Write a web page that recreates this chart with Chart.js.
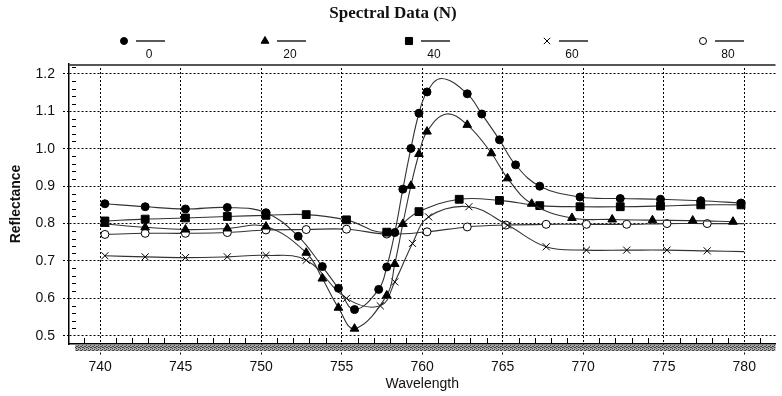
<!DOCTYPE html>
<html>
<head>
<meta charset="utf-8">
<script src="https://cdn.jsdelivr.net/npm/chart.js@4.4.1/dist/chart.umd.min.js"></script>
<style>
  html, body { margin: 0; padding: 0; background: #fff; }
  #wrap { width: 782px; height: 396px; }
</style>
</head>
<body>
<div id="wrap"><canvas id="spectral" width="782" height="396"></canvas></div>
<script>
// SERIES LABELS (N level)
const levels = ['0', '20', '40', '60', '80'];

// N = 0 (filled circle)
const wl0 = [740.3, 742.8, 745.3, 747.9, 750.3, 752.3, 753.8, 754.8, 755.8, 757.3, 757.8, 758.3, 758.8, 759.3, 759.8, 760.3, 762.8, 763.7, 764.8, 765.8, 767.3, 769.8, 772.3, 774.8, 777.3, 779.8];
const r0 = [0.853, 0.845, 0.839, 0.843, 0.829, 0.766, 0.685, 0.627, 0.570, 0.624, 0.684, 0.776, 0.892, 1.001, 1.095, 1.152, 1.147, 1.093, 1.024, 0.957, 0.900, 0.871, 0.867, 0.865, 0.861, 0.855];
// line-only points (no marker drawn there)
const wl0x = [761.2];
const r0x = [1.188];

// N = 20 (triangle)
const wl20 = [740.3, 742.8, 745.3, 747.9, 750.3, 752.8, 753.8, 754.8, 755.8, 757.8, 758.3, 758.8, 759.3, 759.8, 760.3, 762.8, 764.3, 765.3, 766.8, 769.3, 771.8, 774.3, 776.8, 779.3];
const r20 = [0.799, 0.790, 0.784, 0.787, 0.792, 0.722, 0.653, 0.575, 0.519, 0.608, 0.692, 0.799, 0.901, 0.986, 1.046, 1.064, 0.988, 0.921, 0.853, 0.815, 0.811, 0.809, 0.808, 0.805];
const wl20x = [761.5];
const r20x = [1.093];

// N = 40 (square)
const wl40 = [740.3, 742.8, 745.3, 747.9, 750.3, 752.8, 755.3, 757.8, 759.8, 762.3, 764.8, 767.3, 769.8, 772.3, 774.8, 777.3, 779.8];
const r40 = [0.807, 0.812, 0.815, 0.819, 0.822, 0.824, 0.810, 0.777, 0.832, 0.865, 0.862, 0.848, 0.845, 0.845, 0.847, 0.850, 0.850];

// N = 60 (cross)
const wl60 = [740.3, 742.8, 745.3, 747.9, 750.3, 752.8, 755.3, 757.4, 758.3, 759.4, 760.4, 762.9, 765.3, 767.7, 770.2, 772.7, 775.2, 777.7];
const r60 = [0.714, 0.711, 0.709, 0.711, 0.715, 0.702, 0.600, 0.580, 0.644, 0.747, 0.818, 0.845, 0.796, 0.738, 0.729, 0.729, 0.729, 0.727];
const wl60x = [780];
const r60x = [0.725];

// N = 80 (open circle)
const wl80 = [740.3, 742.8, 745.3, 747.9, 750.3, 752.8, 755.3, 757.8, 760.3, 762.8, 765.2, 767.7, 770.2, 772.7, 775.2, 777.7];
const r80 = [0.771, 0.774, 0.774, 0.776, 0.783, 0.784, 0.785, 0.772, 0.778, 0.791, 0.796, 0.798, 0.798, 0.798, 0.800, 0.800];
const wl80x = [780];
const r80x = [0.800];

// AXIS TICKS
const xTicks = [740, 745, 750, 755, 760, 765, 770, 775, 780];
const yTicks = [0.5, 0.6, 0.7, 0.8, 0.9, 1.0, 1.1, 1.2];

const sans = '"Liberation Sans", Arial, sans-serif';

const marks = [
    { pointStyle: 'circle', radius: 4, fill: '#000' },
    { pointStyle: 'triangle', radius: 5, fill: '#000' },
    { pointStyle: 'rect', radius: 5.5, fill: '#000' },
    { pointStyle: 'crossRot', radius: 5, fill: '#000' },
    { pointStyle: 'circle', radius: 4, fill: '#fff' }
];

function pts(wl, r, wlx, rx) {
    const out = wl.map((w, i) => ({ x: w, y: r[i], m: true }));
    (wlx || []).forEach((w, i) => out.push({ x: w, y: rx[i], m: false }));
    return out.sort((a, b) => a.x - b.x);
}

const seriesData = [
    pts(wl0, r0, wl0x, r0x),
    pts(wl20, r20, wl20x, r20x),
    pts(wl40, r40),
    pts(wl60, r60, wl60x, r60x),
    pts(wl80, r80, wl80x, r80x)
];

const datasets = levels.map((lab, i) => {
    const st = marks[i];
    return {
        label: lab,
        data: seriesData[i],
        borderColor: '#333',
        borderWidth: 1.1,
        tension: 0.4,
        pointStyle: st.pointStyle,
        pointRadius: c => (c.raw && c.raw.m ? st.radius : 0),
        pointHoverRadius: c => (c.raw && c.raw.m ? st.radius : 0),
        pointBackgroundColor: st.fill,
        pointBorderColor: '#000',
        pointBorderWidth: 1
    };
});

// hatched band under the x axis
function hatch(ctx) {
    const c = document.createElement('canvas');
    c.width = 4; c.height = 4;
    const g = c.getContext('2d');
    g.fillStyle = '#aaa';
    g.fillRect(0, 0, 4, 4);
    g.fillStyle = '#444';
    g.fillRect(0, 0, 1, 1); g.fillRect(2, 1, 1, 1); g.fillRect(1, 2, 1, 1); g.fillRect(3, 3, 1, 1);
    g.fillRect(2, 3, 1, 1); g.fillRect(0, 2, 1, 1);
    return ctx.createPattern(c, 'repeat');
}

const decor = {
    id: 'decor',
    afterDraw(chart) {
        const ctx = chart.ctx;
        const a = chart.chartArea;
        const xs = chart.scales.x, ys = chart.scales.y;
        ctx.save();

        // top border
        ctx.strokeStyle = '#555';
        ctx.lineWidth = 2;
        ctx.beginPath();
        ctx.moveTo(a.left, a.top + 1);
        ctx.lineTo(a.right, a.top + 1);
        ctx.stroke();

        // band
        ctx.fillStyle = hatch(ctx);
        ctx.fillRect(a.left + 6, a.bottom + 1, a.right - a.left - 6, 6);

        // minor ticks
        ctx.strokeStyle = '#000';
        ctx.lineWidth = 1;
        for (let w = 739; w <= 781; w++) {
            if (w % 5 === 0) continue;
            const px = Math.round(xs.getPixelForValue(w)) + 0.5;
            ctx.beginPath();
            ctx.moveTo(px, a.bottom - 1);
            ctx.lineTo(px, a.bottom - 6);
            ctx.stroke();
        }
        for (let k = 24; k <= 61; k++) {
            if (k % 5 === 0) continue;
            const py = Math.round(ys.getPixelForValue(k * 0.02)) + 0.5;
            ctx.beginPath();
            ctx.moveTo(a.left + 3, py);
            ctx.lineTo(a.left + 7, py);
            ctx.stroke();
        }

        // title
        ctx.fillStyle = '#111';
        ctx.font = 'bold 17px "Liberation Serif", "Times New Roman", serif';
        ctx.textAlign = 'center';
        ctx.textBaseline = 'middle';
        ctx.fillText('Spectral Data (N)', 393, 14);

        // legend: marker, short line, label under the line
        const legX = [124, 265, 409, 547, 703];
        ctx.font = '12px ' + sans;
        levels.forEach((lab, i) => {
            const st = marks[i];
            const mx = legX[i], my = 41;
            ctx.fillStyle = st.fill;
            ctx.strokeStyle = '#000';
            ctx.lineWidth = 1;
            Chart.helpers.drawPoint(ctx, { pointStyle: st.pointStyle, radius: st.radius - 0.5, rotation: 0, borderWidth: 1 }, mx, my);
            ctx.strokeStyle = '#222';
            ctx.lineWidth = 1.5;
            ctx.beginPath();
            ctx.moveTo(mx + 12, my);
            ctx.lineTo(mx + 41, my);
            ctx.stroke();
            ctx.fillStyle = '#111';
            ctx.fillText(lab, mx + 25, 55);
        });
        ctx.restore();
    }
};

new Chart(document.getElementById('spectral'), {
    type: 'line',
    data: { datasets: datasets },
    options: {
        responsive: false,
        animation: false,
        layout: { padding: { top: 64, left: 0, right: 0, bottom: 0 } },
        plugins: {
            legend: { display: false },
            title: { display: false },
            tooltip: { enabled: false }
        },
        scales: {
            x: {
                type: 'linear',
                min: 738.07,
                max: 781.94,
                afterBuildTicks: s => { s.ticks = xTicks.map(v => ({ value: v })); },
                afterFit: s => { s.height = 52; },
                ticks: { font: { family: sans, size: 14 }, color: '#111', padding: 3, maxRotation: 0 },
                grid: { color: '#000', lineWidth: 1, tickLength: 12, tickColor: '#000', tickWidth: 1, tickBorderDash: [2, 2] },
                border: { color: '#000', width: 1.5, dash: [2, 2] },
                title: { display: true, text: 'Wavelength', font: { family: sans, size: 14 }, color: '#111', padding: { top: 0, bottom: 3 } }
            },
            y: {
                min: 0.478,
                max: 1.2267,
                afterBuildTicks: s => { s.ticks = yTicks.map(v => ({ value: v })); },
                afterFit: s => { s.width = 69; },
                ticks: { font: { family: sans, size: 14 }, color: '#111', padding: 8, callback: v => v.toFixed(1) },
                grid: { color: '#000', lineWidth: 1, tickLength: 6, tickColor: '#000', tickWidth: 1, tickBorderDash: [2, 2] },
                border: { color: '#000', width: 1.5, dash: [2, 2] },
                title: { display: true, text: 'Reflectance', font: { family: sans, size: 14, weight: 'bold' }, color: '#111', padding: { top: 8, bottom: 0 } }
            }
        }
    },
    plugins: [decor]
});
</script>
</body>
</html>
